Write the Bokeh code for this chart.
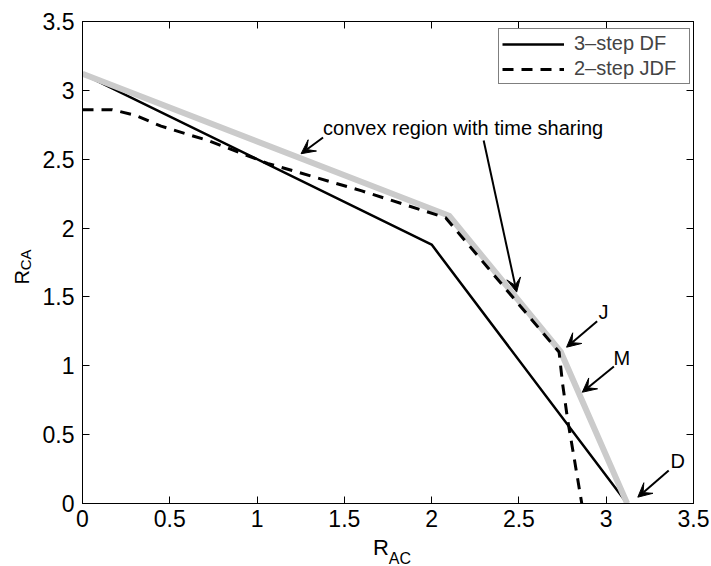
from bokeh.plotting import figure
from bokeh.models import (Range1d, FixedTicker, LinearAxis, Legend, LegendItem,
                          Label, Arrow, VeeHead, ColumnDataSource)
from bokeh.embed import file_html
from bokeh.resources import INLINE

# 3-step decode-and-forward rate region boundary
df_x = [0.0, 2.0, 3.12]
df_y = [3.12, 1.88, 0.0]

# 2-step joint decode-and-forward boundary
jdf_x = [0.0, 0.17, 0.30, 0.45, 0.72, 1.06, 1.60, 2.08, 2.73, 2.75, 2.78, 2.815, 2.86]
jdf_y = [2.86, 2.86, 2.82, 2.74, 2.635, 2.47, 2.27, 2.075, 1.10, 0.87, 0.60, 0.34, 0.0]

# convex hull obtained with time sharing
ts_x = [0.0, 2.10, 2.74, 3.12]
ts_y = [3.12, 2.09, 1.10, 0.0]

tick_values = [0, 0.5, 1, 1.5, 2, 2.5, 3, 3.5]
tick_labels = ["0", "0.5", "1", "1.5", "2", "2.5", "3", "3.5"]

# annotation arrows (tail -> head) and their texts
arrow_x0 = [1.378, 2.298, 2.948, 3.044, 3.358]
arrow_y0 = [2.658, 2.636, 1.324, 0.995, 0.240]
arrow_x1 = [1.252, 2.487, 2.773, 2.863, 3.181]
arrow_y1 = [2.540, 1.535, 1.135, 0.808, 0.046]

note_text = ["convex region with time sharing", "J", "M", "D"]
note_x = [1.378, 2.956, 3.042, 3.368]
note_y = [2.730, 1.390, 1.055, 0.305]

FONT = "Liberation Sans"

p = figure(width=711, height=566, x_range=Range1d(0, 3.5), y_range=Range1d(0, 3.5),
           output_backend="svg", toolbar_location=None,
           min_border_left=81, min_border_right=18, min_border_top=21, min_border_bottom=63)
p.background_fill_color = "white"
p.border_fill_color = "white"
p.outline_line_color = "black"
p.outline_line_width = 1
p.xgrid.visible = False
p.ygrid.visible = False

overrides = {v: t for v, t in zip(tick_values, tick_labels)}
blank = {v: "" for v in tick_values}

for ax in (p.xaxis[0], p.yaxis[0]):
    ax.ticker = FixedTicker(ticks=tick_values)
    ax.major_label_overrides = overrides
    ax.major_tick_in = 7
    ax.major_tick_out = 0
    ax.minor_tick_line_color = None
    ax.axis_line_color = "black"
    ax.major_tick_line_color = "black"
    ax.major_label_text_font = FONT
    ax.major_label_text_font_size = "23px"
    ax.major_label_text_color = "black"
p.xaxis[0].major_label_standoff = 6
p.yaxis[0].major_label_standoff = 8

# tick marks on the top and right edges of the box
for side in ("above", "right"):
    ax = LinearAxis(ticker=FixedTicker(ticks=tick_values), major_label_overrides=blank,
                    major_tick_in=7, major_tick_out=0, minor_tick_line_color=None,
                    axis_line_color="black", major_tick_line_color="black",
                    major_label_text_font_size="1px", major_label_standoff=0)
    p.add_layout(ax, side)

r_df = p.line(df_x, df_y, line_color="black", line_width=2.5)
r_ts = p.line(ts_x, ts_y, line_color="#cbcbcb", line_width=6, line_join="round")
r_jdf = p.line(jdf_x, jdf_y, line_color="black", line_width=3, line_dash="11 8")

legend = Legend(items=[LegendItem(label="3–step DF", renderers=[r_df]),
                       LegendItem(label="2–step JDF", renderers=[r_jdf])],
                location=(416, 419), margin=0, padding=3, spacing=2,
                glyph_width=62, glyph_height=16, label_height=16, label_width=112,
                label_standoff=10,
                label_text_font=FONT, label_text_font_size="20px",
                border_line_color="black", border_line_width=1,
                background_fill_color="white", background_fill_alpha=1)
p.add_layout(legend, "center")

arrows = ColumnDataSource(dict(x0=arrow_x0, y0=arrow_y0, x1=arrow_x1, y1=arrow_y1))
p.add_layout(Arrow(source=arrows, x_start="x0", y_start="y0", x_end="x1", y_end="y1",
                   line_color="black", line_width=2,
                   end=VeeHead(size=14, fill_color="black", line_color="black", line_width=1)))

for t, x, y in zip(note_text, note_x, note_y):
    p.add_layout(Label(x=x, y=y, text=t, text_font=FONT, text_font_size="20px",
                       text_color="black", text_align="left", text_baseline="alphabetic"))

# axis titles with subscripts, kept in the side panels so they are not clipped
def title_part(text, x, y, size, side, angle=0.0):
    p.add_layout(Label(x=x, y=y, text=text, text_font=FONT, text_font_size=size,
                       text_color="black", angle=angle,
                       text_align="left", text_baseline="alphabetic"), side)

title_part("R", 1.664, -0.320, "22px", "below")
title_part("AC", 1.755, -0.396, "16px", "above")
title_part("R", -0.345, 1.590, "20px", "left", angle=1.5708)
title_part("CA", -0.326, 1.693, "15px", "left", angle=1.5708)

open("out.html", "w").write(file_html(p, INLINE))
